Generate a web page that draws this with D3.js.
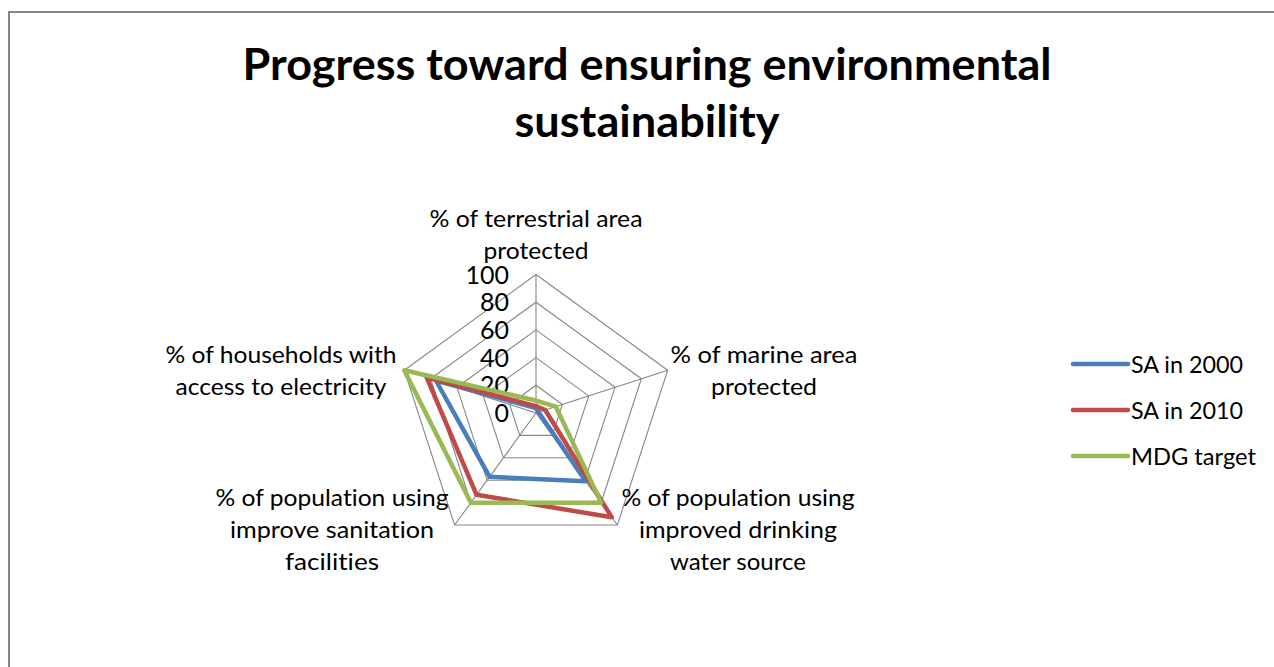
<!DOCTYPE html>
<html>
<head>
<meta charset="utf-8">
<script src="https://cdn.jsdelivr.net/npm/d3@7"></script>
<style>
  html, body { margin: 0; padding: 0; background: #fff; }
  svg { display: block; }
  text { font-family: Lato, "Open Sans", "Liberation Sans", sans-serif; fill: #000;
         font-variant-ligatures: none; font-feature-settings: "liga" 0, "clig" 0; }
</style>
</head>
<body>
<svg id="chart" width="1274" height="667"></svg>
<script>
// Axes of the radar, clockwise from the top
const categories = [
  ["% of terrestrial area", "protected"],
  ["% of marine area", "protected"],
  ["% of population using", "improved drinking", "water source"],
  ["% of population using", "improve sanitation", "facilities"],
  ["% of households with", "access to electricity"]
];
const seriesNames = ["SA in 2000", "SA in 2010", "MDG target"];
const sa2000 = [3.5, 2, 61, 57, 76];
const sa2010 = [5, 7, 93, 73, 83];
const mdgTarget = [9, 15, 80, 80, 100];
const tickValues = [0, 20, 40, 60, 80, 100];
const seriesColors = ["#4A7EBB", "#BE4B48", "#98B954"];

const svg = d3.select("#chart");
const W = 1274, H = 667;
const cx = 536, cy = 413, R = 138.5;

// Chart-area frame (runs off the right and bottom edges)
svg.append("path")
  .attr("d", `M9,${H + 5} V12 H${W + 5}`)
  .attr("fill", "none").attr("stroke", "#868686").attr("stroke-width", 2);

// Title
const title = svg.append("g");
[["Progress toward ensuring environmental", 80, 809], ["sustainability", 137, 265]].forEach(([t, y, w]) => {
  title.append("text").attr("x", 647).attr("y", y).attr("text-anchor", "middle")
    .attr("font-size", 44).attr("font-weight", "bold")
    .attr("textLength", w).attr("lengthAdjust", "spacingAndGlyphs").text(t);
});

const r = d3.scaleLinear().domain([0, 100]).range([0, R]);
const n = categories.length;
const angle = i => i * 2 * Math.PI / n;
const pt = (i, v) => [cx + r(v) * Math.sin(angle(i)), cy - r(v) * Math.cos(angle(i))];

const g = svg.append("g");

// Gridline pentagons
const ringLine = d3.line().curve(d3.curveLinearClosed);
tickValues.filter(v => v > 0).forEach(v => {
  g.append("path")
    .attr("d", ringLine(d3.range(n).map(i => pt(i, v))))
    .attr("fill", "none").attr("stroke", "#868686").attr("stroke-width", 1.1);
});
// Spokes
d3.range(n).forEach(i => {
  const [x, y] = pt(i, 100);
  g.append("line").attr("x1", cx).attr("y1", cy).attr("x2", x).attr("y2", y)
    .attr("stroke", "#868686").attr("stroke-width", 1.1);
});

// Value axis labels along the top spoke
tickValues.forEach(v => {
  g.append("text").attr("x", cx - 27).attr("y", cy - r(v)).attr("dy", "0.36em")
    .attr("text-anchor", "end").attr("font-size", 25)
    .attr("textLength", String(v).length * 14.5).attr("lengthAdjust", "spacingAndGlyphs")
    .text(v);
});

// Category labels
const labelPos = [
  { x: 536, y: 218, w: [213, 105] },
  { x: 764, y: 354, w: [187, 106] },
  { x: 738, y: 497, w: [233, 198, 136] },
  { x: 332, y: 497, w: [233, 204, 94] },
  { x: 281, y: 354, w: [231, 211] }
];
categories.forEach((lines, i) => {
  const p = labelPos[i];
  lines.forEach((t, k) => {
    g.append("text").attr("x", p.x).attr("y", p.y + k * 32).attr("dy", "0.36em")
      .attr("text-anchor", "middle").attr("font-size", 24)
      .attr("textLength", p.w[k]).attr("lengthAdjust", "spacingAndGlyphs").text(t);
  });
});

// Series outlines
const radial = d3.lineRadial()
  .angle((d, i) => angle(i))
  .radius(d => r(d))
  .curve(d3.curveLinearClosed);
[sa2000, sa2010, mdgTarget].forEach((vals, s) => {
  g.append("path")
    .attr("transform", `translate(${cx},${cy})`)
    .attr("d", radial(vals))
    .attr("fill", "none").attr("stroke", seriesColors[s])
    .attr("stroke-width", 4.5).attr("stroke-linejoin", "round");
});

// Legend
const legendWidths = [112, 112, 125];
const legend = svg.append("g");
seriesNames.forEach((name, s) => {
  const y = 364 + s * 46;
  legend.append("line").attr("x1", 1073).attr("x2", 1128).attr("y1", y).attr("y2", y)
    .attr("stroke", seriesColors[s]).attr("stroke-width", 4.5).attr("stroke-linecap", "round");
  legend.append("text").attr("x", 1131).attr("y", y).attr("dy", "0.36em")
    .attr("font-size", 24)
    .attr("textLength", legendWidths[s]).attr("lengthAdjust", "spacingAndGlyphs")
    .text(name);
});
</script>
</body>
</html>
